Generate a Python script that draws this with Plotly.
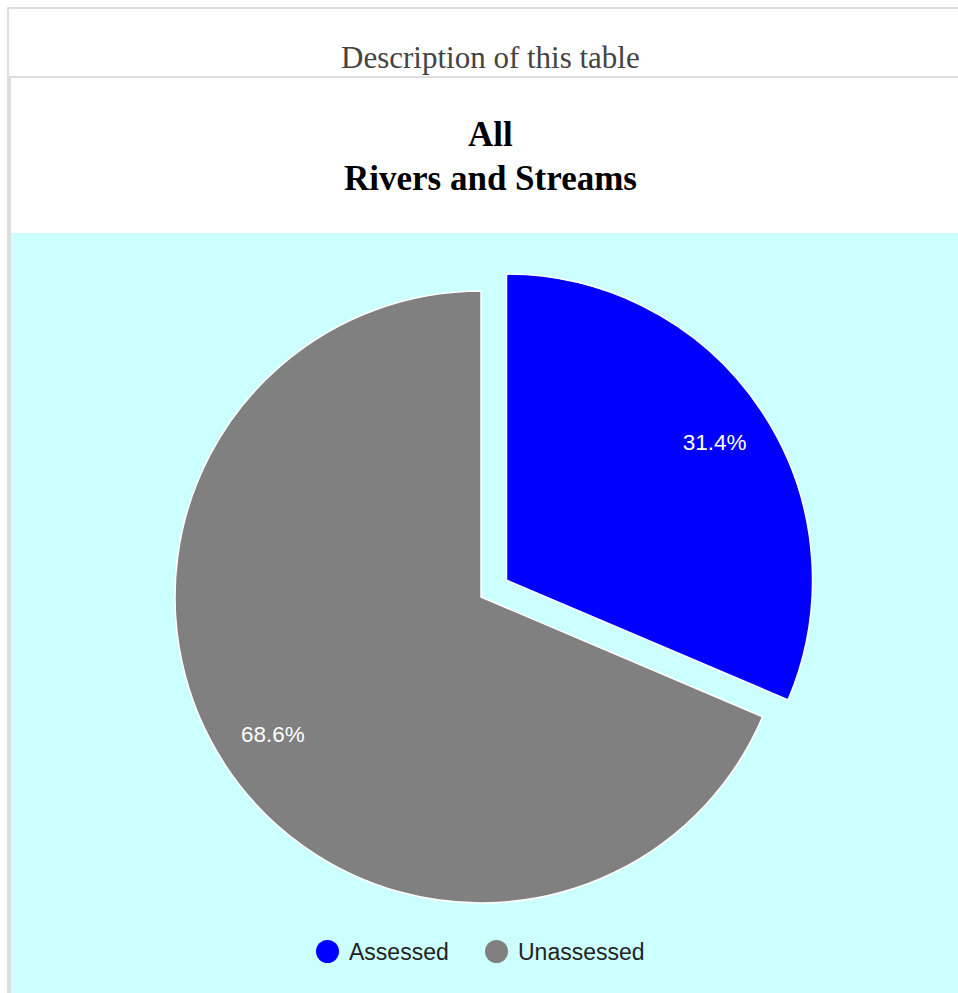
import plotly.graph_objects as go

# Slice data
labels = ["Assessed", "Unassessed"]
percent_values = [31.4, 68.6]
slice_colors = ["#0000ff", "#808080"]
pull_amounts = [0.1, 0.0]

caption_text = "Description of this table"
title_lines = ["All", "Rivers and Streams"]

W, H = 958, 993


def fx(px):
    """Pixel x -> paper fraction."""
    return px / W


def fy(py):
    """Pixel y (from top) -> paper fraction."""
    return 1 - py / H


# Pie box: centre (481, 597), radius 306 with 10% pull -> box side 2.2 * r
pie_cx, pie_cy, pie_r = 481, 597, 306
half_box = pie_r * (1 + max(pull_amounts))
pie_domain = dict(
    x=[fx(pie_cx - half_box), fx(pie_cx + half_box)],
    y=[fy(pie_cy + half_box), fy(pie_cy - half_box)],
)

common = dict(
    labels=labels,
    values=percent_values,
    sort=False,
    direction="clockwise",
    rotation=0,
    pull=pull_amounts,
    domain=pie_domain,
)

fig = go.Figure()

# Filled slices
fig.add_trace(go.Pie(
    **common,
    marker=dict(colors=slice_colors, line=dict(color="white", width=1.5)),
    textinfo="none",
    showlegend=False,
    hoverinfo="label+percent",
))

# Transparent ring carrying the percent labels near the rim
fig.add_trace(go.Pie(
    **common,
    hole=0.63,
    marker=dict(colors=["rgba(0,0,0,0)"] * len(labels), line=dict(width=0)),
    textinfo="percent",
    textposition="inside",
    insidetextorientation="horizontal",
    textfont=dict(color="white", size=22.5, family="Liberation Sans, Arial, sans-serif"),
    showlegend=False,
    hoverinfo="skip",
))

shapes = []
border = "#dddddd"


def rect(x0, y0, x1, y1, color, layer="below"):
    return dict(type="rect", xref="paper", yref="paper",
                x0=fx(x0), x1=fx(x1), y0=fy(y1), y1=fy(y0),
                fillcolor=color, line=dict(width=0), layer=layer)


# Chart background panel
shapes.append(rect(11, 233, 958, 993, "#ccffff"))
# Table borders
shapes.append(rect(7, 7, 958, 9, border))
shapes.append(rect(7, 7, 9, 78, border))
shapes.append(rect(7, 76, 958, 78, border))
shapes.append(rect(7, 78, 11, 993, border))

serif = "Liberation Serif, Times New Roman, serif"
annotations = [
    dict(text=caption_text, x=fx(490), y=fy(58), xref="paper", yref="paper",
         xanchor="center", yanchor="middle", showarrow=False,
         font=dict(family=serif, size=31, color="#444444")),
]

# Two-line chart title
title_centres_y = [135, 178]
for line, cy in zip(title_lines, title_centres_y):
    annotations.append(dict(text=line, x=fx(490), y=fy(cy), xref="paper", yref="paper",
                            xanchor="center", yanchor="middle", showarrow=False,
                            font=dict(family=serif, size=35, color="#000000", weight="bold")))

# Legend: circle swatch + label for each slice
legend_cy = 951.5
legend_marker_cx = [327.5, 496.5]
marker_r = 11.5
for name, color, cx in zip(labels, slice_colors, legend_marker_cx):
    shapes.append(dict(type="circle", xref="paper", yref="paper",
                       x0=fx(cx - marker_r), x1=fx(cx + marker_r),
                       y0=fy(legend_cy + marker_r), y1=fy(legend_cy - marker_r),
                       fillcolor=color, line=dict(width=0), layer="above"))
    annotations.append(dict(text=name, x=fx(cx + marker_r + 7.5), y=fy(legend_cy),
                            xref="paper", yref="paper", xanchor="left", yanchor="middle",
                            showarrow=False,
                            font=dict(family="Liberation Sans, Arial, sans-serif", size=23,
                                      color="#222222")))

fig.update_layout(
    width=W,
    height=H,
    margin=dict(l=0, r=0, t=0, b=0),
    paper_bgcolor="white",
    plot_bgcolor="white",
    shapes=shapes,
    annotations=annotations,
    showlegend=False,
)

fig.write_html("out.html", config={"displayModeBar": False})
